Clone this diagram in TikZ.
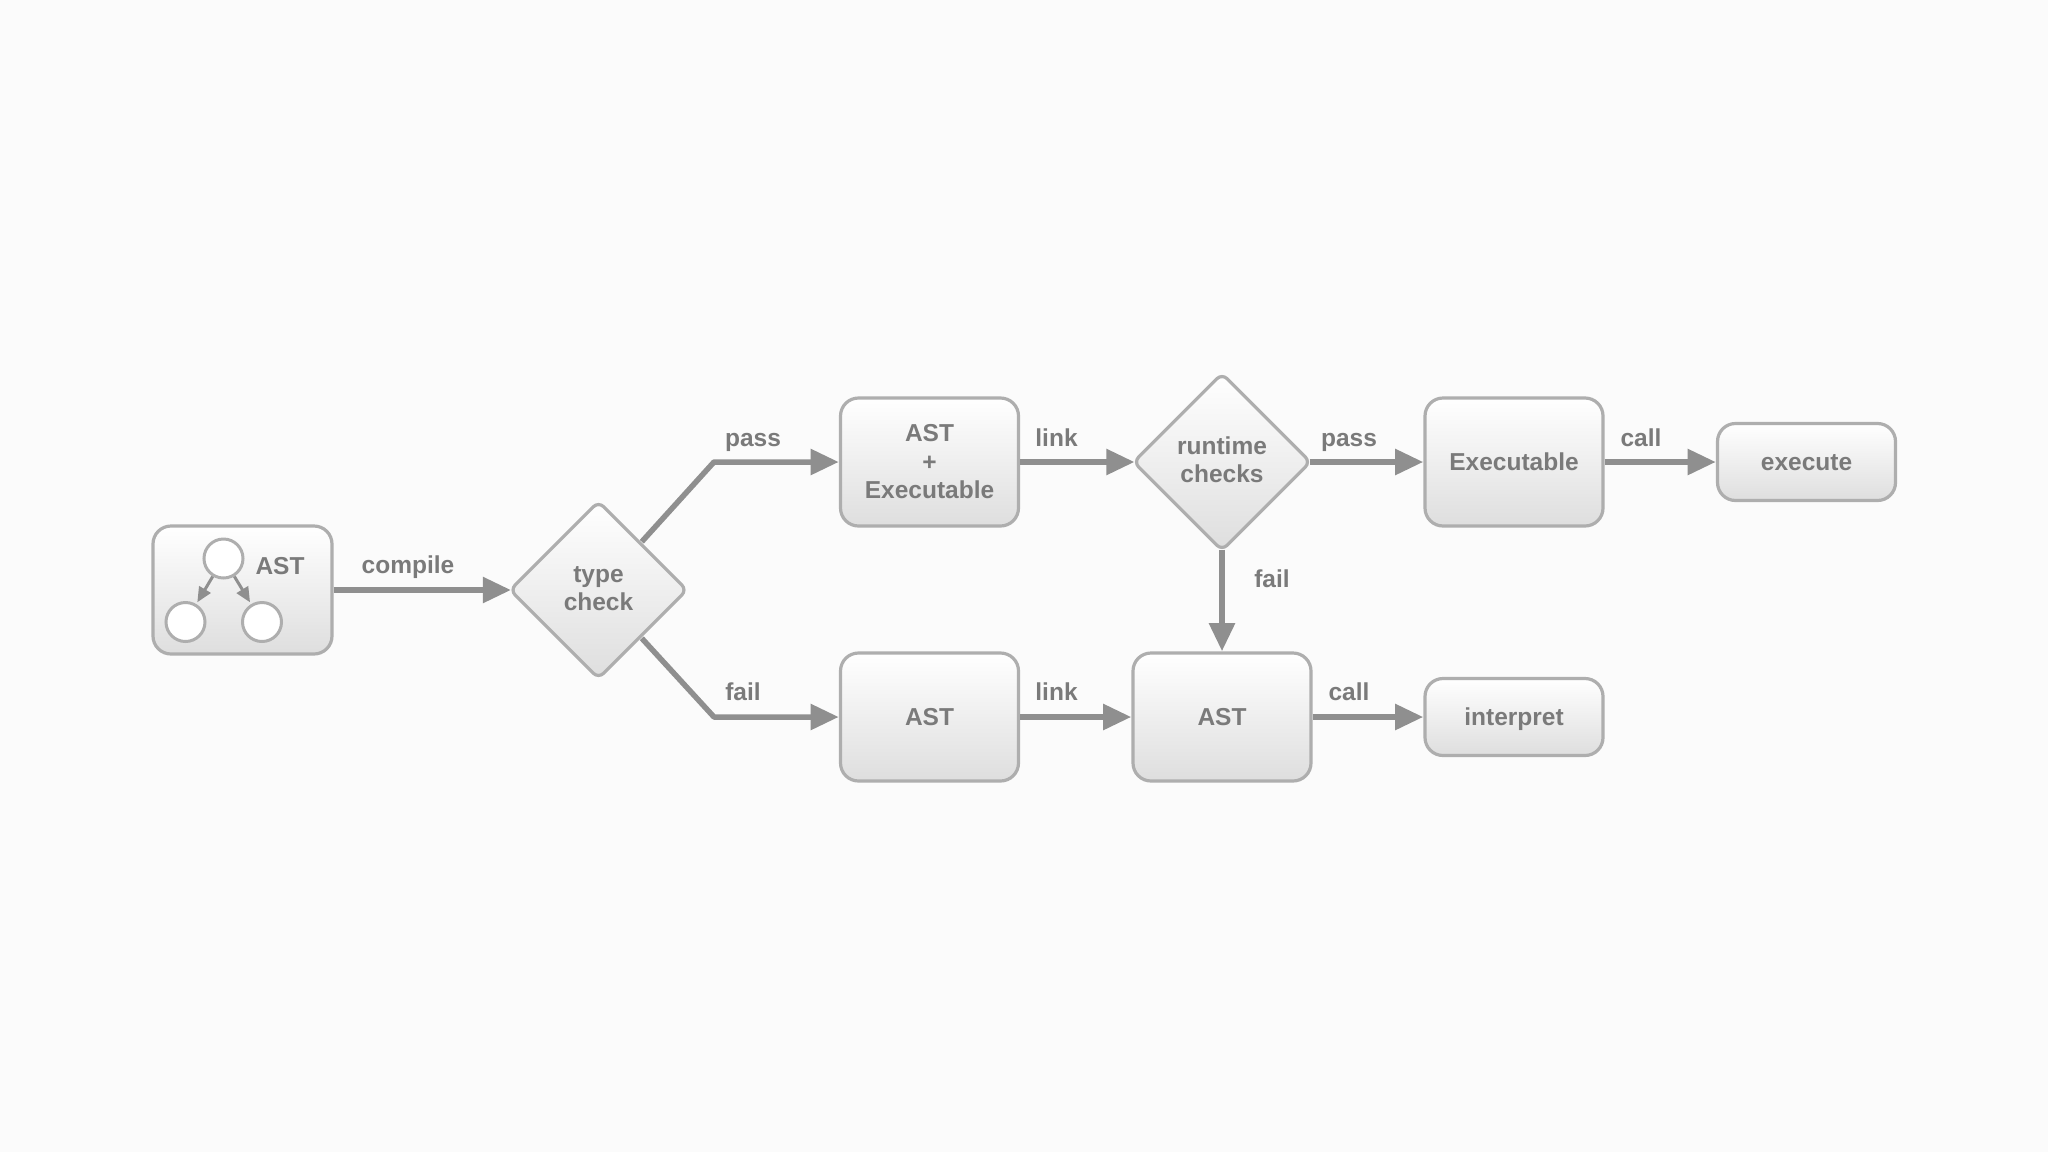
\documentclass[tikz,border=0pt]{standalone}
\usepackage{fontspec}
\setmainfont{Liberation Sans}
\usetikzlibrary{shapes.geometric,arrows.meta}
\definecolor{bgc}{HTML}{FBFBFB}
\definecolor{edgec}{HTML}{AEAEAE}
\definecolor{linkc}{HTML}{8F8F8F}
\definecolor{textc}{HTML}{7A7A7A}
\definecolor{lowc}{HTML}{DEDEDE}
\tikzset{
  lbl/.style={font=\bfseries\fontsize{24.5}{28.5}\selectfont,text=textc,inner sep=0pt,align=center},
  box/.style={lbl,draw=edgec,line width=3.2pt,rounded corners=18pt,top color=white,bottom color=lowc,minimum width=178pt,minimum height=128pt},
  lowbox/.style={box,minimum height=77pt,text height=17pt,text depth=0pt},
  deci/.style={lbl,diamond,aspect=1,draw=edgec,line width=3.2pt,rounded corners=7pt,top color=white,bottom color=lowc,minimum width=178pt,minimum height=178pt},
  blob/.style={circle,draw=edgec,line width=3pt,fill=white,minimum size=39pt,inner sep=0pt},
  conn/.style={draw=linkc,line width=5.5pt,-{Triangle[length=28pt,width=25pt]},shorten >=0.2pt},
  intodeci/.style={conn,shorten >=-3pt},
  fromtip/.style={conn,shorten <=-3pt},
  thin conn/.style={draw=linkc,line width=3pt,-{Triangle[length=15pt,width=13pt]},shorten >=2pt,shorten <=0pt},
  tag/.style={lbl,anchor=base},
}
\begin{document}
\begin{tikzpicture}[x=1pt,y=-1pt]
\useasboundingbox (0,0) rectangle (2048,1152);
\fill[bgc] (0,0) rectangle (2048,1152);
% nodes
\node[box,minimum width=179pt] (src) at (242.5,590) {};
\node[blob] (c1) at (223.5,558.5) {};
\node[blob] (c2) at (185.5,622) {};
\node[blob] (c3) at (262,622) {};
\node[tag] (srcl) at (280,574) {AST};
\node[deci] (d1) at (598.5,590) {\raisebox{3pt}{type}\\\raisebox{3pt}{check}};
\node[box] (up) at (929.5,462) {AST\\+\\Executable};
\node[deci] (d2) at (1222,462) {\raisebox{5pt}{runtime}\\\raisebox{5pt}{checks}};
\node[box] (exe) at (1514,462) {Executable};
\node[lowbox] (run) at (1806.5,462) {execute};
\node[box] (low) at (929.5,717) {AST};
\node[box] (ast) at (1222,717) {AST};
\node[lowbox] (intp) at (1514,717) {interpret};
% free bends
\coordinate (bendup) at (714,462);
\coordinate (bendlow) at (714,717);
% connectors
\draw[thin conn] (c1) -- (c2);
\draw[thin conn] (c1) -- (c3);
\draw[intodeci] (src.east) -- (d1.west);
\draw[conn,line join=round] ([shift={(-2,-3)}]d1.north east) -- (bendup) -- (up.west);
\draw[conn,line join=round] ([shift={(-2,3)}]d1.south east) -- (bendlow) -- (low.west);
\draw[intodeci] (up.east) -- (d2.west);
\draw[fromtip] (d2.east) -- (exe.west);
\draw[conn] (exe.east) -- (run.west);
\draw[fromtip] (d2.south) -- (ast.north);
\draw[conn] (low.east) -- (ast.west);
\draw[conn] (ast.east) -- (intp.west);
% labels
\node[tag] (t1) at (408,573) {compile};
\node[tag] (t2) at (753,446) {pass};
\node[tag] (t3) at (743,700) {fail};
\node[tag] (t4) at (1056.5,446) {link};
\node[tag] (t5) at (1349,446) {pass};
\node[tag] (t6) at (1641,446) {call};
\node[tag] (t7) at (1272,587) {fail};
\node[tag] (t8) at (1056.5,700) {link};
\node[tag] (t9) at (1349,700) {call};
\end{tikzpicture}
\end{document}
